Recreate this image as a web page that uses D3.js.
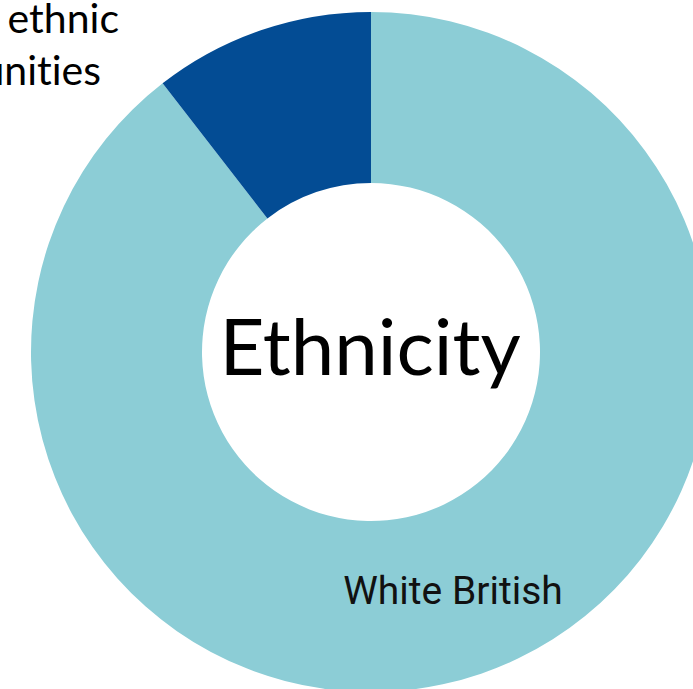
<!DOCTYPE html>
<html>
<head>
<meta charset="utf-8">
<script src="https://cdn.jsdelivr.net/npm/d3@7"></script>
<style>
  html, body { margin: 0; padding: 0; background: #fff; overflow: hidden; }
  svg { display: block; }
  text { font-variant-ligatures: none; font-feature-settings: "liga" 0, "clig" 0; }
</style>
</head>
<body>
<svg id="chart" width="693" height="689"></svg>
<script>
// Ethnicity breakdown (percent of total)
const categories = ["White British", "Minority ethnic communities"];
const shares = [89.5, 10.5];
const colors = ["#8ccdd6", "#034c94"];
const centreTitle = "Ethnicity";
const minorityLines = ["Minority ethnic", "communities"];

const width = 693, height = 689;
const cx = 371, cy = 352;
const outerR = 340, innerR = 169;

const svg = d3.select("#chart");
const g = svg.append("g").attr("transform", `translate(${cx},${cy})`);

const data = categories.map((c, i) => ({ name: c, value: shares[i], color: colors[i] }));

const pie = d3.pie().sort(null).value(d => d.value);
const arc = d3.arc().innerRadius(innerR).outerRadius(outerR);

g.selectAll("path.slice")
  .data(pie(data))
  .join("path")
  .attr("class", "slice")
  .attr("d", arc)
  .attr("fill", d => d.data.color);

// Centre title
g.append("text")
  .attr("x", -1)
  .attr("y", 23)
  .attr("text-anchor", "middle")
  .attr("font-family", "Lato, 'Open Sans', sans-serif")
  .attr("font-size", 78)
  .attr("fill", "#000")
  .text(centreTitle);

// White British label inside its slice
g.append("text")
  .attr("x", 82)
  .attr("y", 252)
  .attr("text-anchor", "middle")
  .attr("font-family", "Roboto, sans-serif")
  .attr("font-size", 39)
  .attr("fill", "#111")
  .text(categories[0]);

// Minority label, two lines, outside the ring to the upper left
const minority = g.append("text")
  .attr("text-anchor", "end")
  .attr("font-family", "Lato, 'Open Sans', sans-serif")
  .attr("font-size", 41)
  .attr("word-spacing", 14)
  .attr("fill", "#000");
minority.append("tspan").attr("x", -252).attr("y", -319).text(minorityLines[0]);
minority.append("tspan").attr("x", -270).attr("y", -267).text(minorityLines[1]);
</script>
</body>
</html>
